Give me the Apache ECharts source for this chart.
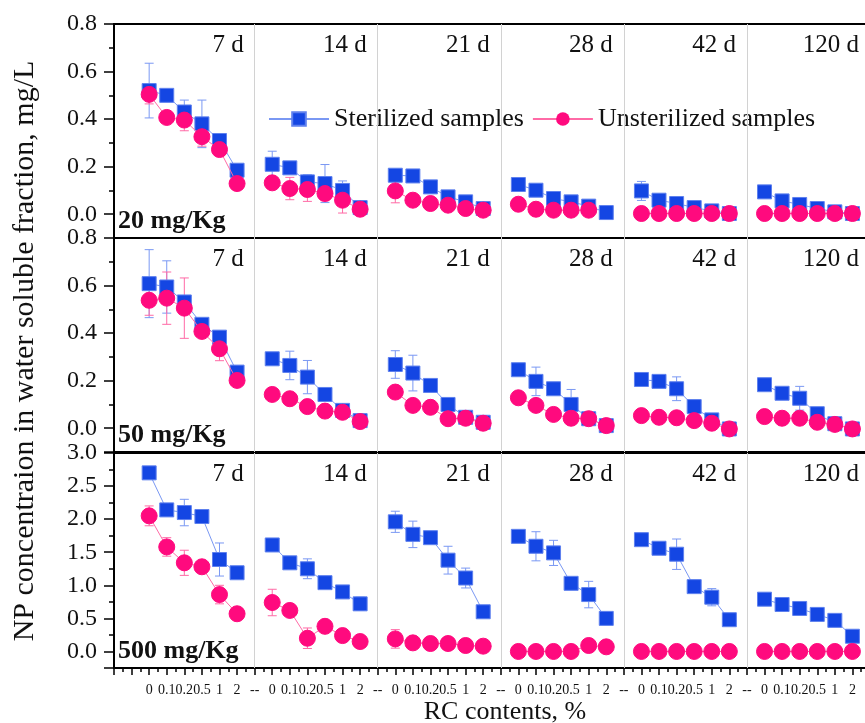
<!DOCTYPE html>
<html>
<head>
<meta charset="utf-8">
<title>NP concentration</title>
<script src="https://cdn.jsdelivr.net/npm/echarts@6.0.0/dist/echarts.min.js"></script>
<style>
html, body { margin: 0; padding: 0; background: #fff; }
#myChart { width: 865px; height: 723px; }
</style>
</head>
<body>
<div id="myChart"></div>
<script>
let rcLabels = ["0", "0.1", "0.2", "0.5", "1", "2"];
let days = ["7 d", "14 d", "21 d", "28 d", "42 d", "120 d"];
let doses = ["20 mg/Kg", "50 mg/Kg", "500 mg/Kg"];
let yMin = [-0.1, -0.1, -0.25];
let yMax = [0.8, 0.8, 3.0];
let yTitle = "NP concentraion in water soluble fraction, mg/L";

// one row per day (7, 14, 21, 28, 42, 120 d), one value per RC content
let ster20 = [
  [0.52, 0.50, 0.43, 0.38, 0.31, 0.185],
  [0.21, 0.195, 0.136, 0.129, 0.10, 0.028],
  [0.164, 0.161, 0.115, 0.073, 0.052, 0.024],
  [0.125, 0.101, 0.066, 0.052, 0.034, 0.007],
  [0.098, 0.059, 0.045, 0.028, 0.014, 0.003],
  [0.094, 0.056, 0.041, 0.024, 0.010, 0.003]
];
let ster20Err = [
  [0.115, 0.01, 0.05, 0.10, 0.02, 0.01],
  [0.055, 0.015, 0.03, 0.08, 0.04, 0.01],
  [0.01, 0.01, 0.01, 0.02, 0.01, 0.005],
  [0.01, 0.01, 0.01, 0.02, 0.01, 0.005],
  [0.04, 0.01, 0.01, 0.01, 0.01, 0.005],
  [0.01, 0.01, 0.01, 0.01, 0.005, 0.005]
];
let unst20 = [
  [0.504, 0.407, 0.396, 0.326, 0.272, 0.129],
  [0.132, 0.108, 0.104, 0.087, 0.059, 0.021],
  [0.098, 0.059, 0.045, 0.038, 0.024, 0.017],
  [0.042, 0.021, 0.017, 0.017, 0.017, "-"],
  [0.003, 0.003, 0.003, 0.003, 0.003, 0.003],
  [0.003, 0.003, 0.003, 0.003, 0.003, 0.003]
];
let unst20Err = [
  [0.04, 0.01, 0.045, 0.04, 0.01, 0.01],
  [0.02, 0.047, 0.05, 0.03, 0.054, 0.01],
  [0.05, 0.01, 0.01, 0.01, 0.01, 0.005],
  [0.01, 0.005, 0.005, 0.005, 0.005, 0],
  [0, 0, 0, 0, 0, 0],
  [0, 0, 0, 0, 0, 0]
];

let ster50 = [
  [0.608, 0.594, 0.531, 0.437, 0.383, 0.236],
  [0.292, 0.264, 0.215, 0.142, 0.075, 0.032],
  [0.268, 0.232, 0.18, 0.10, 0.046, 0.025],
  [0.246, 0.197, 0.166, 0.10, 0.04, 0.011],
  [0.205, 0.197, 0.166, 0.091, 0.035, -0.003],
  [0.183, 0.147, 0.126, 0.061, 0.019, -0.003]
];
let ster50Err = [
  [0.143, 0.11, 0.01, 0.01, 0.02, 0.01],
  [0.01, 0.06, 0.07, 0.01, 0.01, 0.005],
  [0.058, 0.075, 0.01, 0.01, 0.01, 0.005],
  [0.01, 0.06, 0.02, 0.063, 0.01, 0.005],
  [0.01, 0.01, 0.05, 0.01, 0.01, 0.005],
  [0.02, 0.01, 0.05, 0.01, 0.01, 0.005]
];
let unst50 = [
  [0.538, 0.547, 0.505, 0.407, 0.334, 0.201],
  [0.142, 0.124, 0.091, 0.072, 0.067, 0.028],
  [0.152, 0.096, 0.088, 0.04, 0.042, 0.021],
  [0.128, 0.096, 0.058, 0.042, 0.04, 0.011],
  [0.053, 0.046, 0.044, 0.032, 0.021, -0.003],
  [0.049, 0.042, 0.042, 0.025, 0.016, -0.003]
];
let unst50Err = [
  [0.063, 0.11, 0.127, 0.01, 0.05, 0.01],
  [0.01, 0.01, 0.01, 0.01, 0.01, 0.005],
  [0.01, 0.01, 0.01, 0.01, 0.01, 0.005],
  [0.01, 0.01, 0.01, 0.01, 0.01, 0.005],
  [0.005, 0.005, 0.005, 0.005, 0.005, 0],
  [0.005, 0.005, 0.005, 0.005, 0.005, 0]
];

let ster500 = [
  [2.70, 2.14, 2.10, 2.04, 1.39, 1.19],
  [1.61, 1.34, 1.25, 1.04, 0.90, 0.72],
  [1.96, 1.77, 1.72, 1.38, 1.11, 0.60],
  [1.74, 1.59, 1.49, 1.03, 0.86, 0.50],
  [1.69, 1.56, 1.47, 0.98, 0.82, 0.48],
  [0.79, 0.71, 0.65, 0.56, 0.47, 0.23]
];
let ster500Err = [
  [0.02, 0.05, 0.2, 0.02, 0.25, 0.02],
  [0.02, 0.08, 0.15, 0.02, 0.02, 0.1],
  [0.16, 0.2, 0.02, 0.21, 0.15, 0.02],
  [0.02, 0.22, 0.19, 0.08, 0.2, 0.02],
  [0.02, 0.06, 0.23, 0.05, 0.13, 0.02],
  [0.02, 0.02, 0.02, 0.02, 0.02, 0.02]
];
let unst500 = [
  [2.05, 1.58, 1.34, 1.28, 0.86, 0.57],
  [0.74, 0.62, 0.20, 0.38, 0.24, 0.15],
  [0.19, 0.13, 0.12, 0.12, 0.09, 0.08],
  [0, 0, 0, 0, 0.09, 0.07],
  [0, 0, 0, 0, 0, 0],
  [0, 0, 0, 0, 0, 0]
];
let unst500Err = [
  [0.15, 0.14, 0.19, 0.02, 0.14, 0.02],
  [0.2, 0.02, 0.155, 0.02, 0.02, 0.08],
  [0.14, 0.02, 0.02, 0.02, 0.02, 0.02],
  [0, 0, 0, 0, 0, 0],
  [0, 0, 0, 0, 0, 0],
  [0, 0, 0, 0, 0, 0]
];

let ster = [ster20, ster50, ster500];
let sterErr = [ster20Err, ster50Err, ster500Err];
let unst = [unst20, unst50, unst500];
let unstErr = [unst20Err, unst50Err, unst500Err];

let serif = "Liberation Serif, Times New Roman, serif";
let blue = "#1446E3", blueLine = "#7A98F3";
let pink = "#FF0A7E", pinkLine = "#FF6AA6";

function lineData(rows) {
  let out = [];
  rows.forEach(function (vals, g) {
    vals.forEach(function (v, j) { out.push([g * 7 + j, v]); });
    out.push([g * 7 + 6, "-"]);
  });
  return out;
}

function errData(rows, errs) {
  let out = [];
  rows.forEach(function (vals, g) {
    vals.forEach(function (v, j) {
      if (v !== "-") out.push([g * 7 + j, v, errs[g][j]]);
    });
  });
  return out;
}

function errBar(color) {
  return function (params, api) {
    let x = api.value(0), v = api.value(1), e = api.value(2);
    let top = api.coord([x, v + e]);
    let bot = api.coord([x, v - e]);
    let w = 4.5;
    let st = { stroke: color, lineWidth: 1 };
    return {
      type: "group",
      children: [
        { type: "line", shape: { x1: top[0], y1: top[1], x2: bot[0], y2: bot[1] }, style: st },
        { type: "line", shape: { x1: top[0] - w, y1: top[1], x2: top[0] + w, y2: top[1] }, style: st },
        { type: "line", shape: { x1: bot[0] - w, y1: bot[1], x2: bot[0] + w, y2: bot[1] }, style: st }
      ]
    };
  };
}

let chart = echarts.init(document.getElementById("myChart"));

let grids = [], xAxes = [], yAxes = [], series = [];
let tops = [24, 238, 453];
let heights = [214, 214, 215];

for (let i = 0; i < 3; i++) {
  let last = i === 2;
  grids.push({
    left: 114, right: -5, top: tops[i], height: heights[i],
    outerBoundsMode: "none",
    show: true, borderColor: "#000", borderWidth: 2
  });
  xAxes.push({
    gridIndex: i, type: "value", min: -2, max: 41, interval: 1,
    axisLine: { onZero: false, lineStyle: { color: "#000", width: 2 } },
    axisTick: { show: last, length: 7, lineStyle: { color: "#000", width: 1.5 } },
    minorTick: { show: last, splitNumber: 2, length: 4, lineStyle: { color: "#000", width: 1.5 } },
    axisLabel: {
      show: last, margin: 15, fontSize: 14, fontFamily: serif, color: "#111",
      formatter: function (v) {
        if (v < 0) return "";
        let k = Math.round(v) % 7;
        return k === 6 ? "--" : rcLabels[k];
      }
    },
    splitLine: { show: false },
    name: last ? "RC contents, %" : "",
    nameLocation: "middle", nameGap: 31,
    nameTextStyle: { fontSize: 26, fontFamily: serif, color: "#111", padding: [0, 0, 0, 26] }
  });
  yAxes.push({
    gridIndex: i, type: "value", min: yMin[i], max: yMax[i], splitNumber: last ? 6 : 5,
    axisLine: { show: true, onZero: false, lineStyle: { color: "#000", width: 2 } },
    axisTick: { show: true, length: 10, lineStyle: { color: "#000", width: 1.5 } },
    minorTick: { show: true, splitNumber: 2, length: 5, lineStyle: { color: "#000", width: 1.5 } },
    axisLabel: {
      margin: 17, fontSize: 24, fontFamily: serif, color: "#111",
      formatter: function (v) { return v < -1e-6 ? "" : v.toFixed(1); }
    },
    splitLine: { show: false }
  });

  series.push({
    name: "Sterilized samples", type: "line", xAxisIndex: i, yAxisIndex: i,
    data: lineData(ster[i]), symbol: "rect", symbolSize: 14, z: 3,
    itemStyle: { color: blue, borderColor: "#5E80EE", borderWidth: 1 },
    lineStyle: { color: blueLine, width: 1 },
    markLine: {
      silent: true, symbol: ["none", "none"], label: { show: false },
      lineStyle: { color: "#d2d2d2", type: "solid", width: 1 },
      data: days.map(function (d, g) { return { xAxis: g * 7 + 6 }; })
    }
  });
  series.push({
    name: "Unsterilized samples", type: "line", xAxisIndex: i, yAxisIndex: i,
    data: lineData(unst[i]), symbol: "circle", symbolSize: 16, z: 4,
    itemStyle: { color: pink, borderColor: pink },
    lineStyle: { color: pinkLine, width: 1 }
  });
  // error bars sit under the markers
  series.push({
    name: "sterErr", type: "custom", xAxisIndex: i, yAxisIndex: i, silent: true, z: 2,
    data: errData(ster[i], sterErr[i]), renderItem: errBar(blueLine)
  });
  series.push({
    name: "unstErr", type: "custom", xAxisIndex: i, yAxisIndex: i, silent: true, z: 2,
    data: errData(unst[i], unstErr[i]), renderItem: errBar(pinkLine)
  });
  // day labels, top right of each group
  series.push({
    name: "days", type: "custom", xAxisIndex: i, yAxisIndex: i, silent: true, z: 6,
    data: days.map(function (d, g) { return [g * 7 + 6, yMax[i]]; }),
    renderItem: function (params, api) {
      let p = api.coord([api.value(0), api.value(1)]);
      return {
        type: "text", x: p[0] - 11, y: p[1] + 21,
        style: {
          text: days[params.dataIndex], fill: "#111", fontSize: 25, fontFamily: serif,
          textAlign: "right", textVerticalAlign: "middle"
        }
      };
    }
  });
  // dose label, bottom left of each row
  series.push({
    name: "dose", type: "custom", xAxisIndex: i, yAxisIndex: i, silent: true, z: 6,
    data: [[-2, yMin[i]]],
    renderItem: function (params, api) {
      let p = api.coord([api.value(0), api.value(1)]);
      return {
        type: "text", x: p[0] + 4, y: p[1] - 17,
        style: {
          text: doses[i], fill: "#111", fontSize: 26, fontWeight: "bold", fontFamily: serif,
          textAlign: "left", textVerticalAlign: "middle"
        }
      };
    }
  });
}

// shared y title, placed beside the middle row
series.push({
  name: "yTitle", type: "custom", xAxisIndex: 1, yAxisIndex: 1, silent: true, z: 6,
  data: [[-2, (yMin[1] + yMax[1]) / 2]],
  renderItem: function (params, api) {
    let p = api.coord([api.value(0), api.value(1)]);
    return {
      type: "text", x: p[0] - 89, y: p[1] + 6, rotation: Math.PI / 2,
      style: {
        text: yTitle, fill: "#111", fontSize: 30, fontFamily: serif,
        textAlign: "center", textVerticalAlign: "middle"
      }
    };
  }
});

chart.setOption({
  animation: false,
  backgroundColor: "#fff",
  legend: {
    data: ["Sterilized samples", "Unsterilized samples"],
    left: 263, top: 101, itemWidth: 60, itemHeight: 17, itemGap: 8,
    selectedMode: false,
    textStyle: { fontSize: 26, fontFamily: serif, color: "#111" }
  },
  grid: grids,
  xAxis: xAxes,
  yAxis: yAxes,
  series: series
});
</script>
</body>
</html>
